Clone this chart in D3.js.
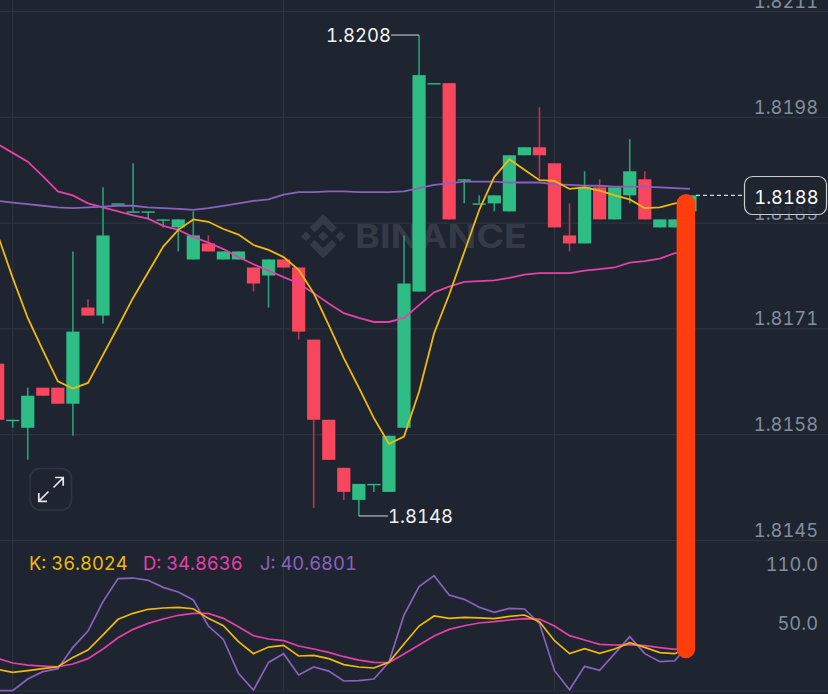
<!DOCTYPE html>
<html>
<head>
<meta charset="utf-8">
<script src="https://cdn.jsdelivr.net/npm/d3@7"></script>
<style>
  html, body { margin: 0; padding: 0; background: #1E2530; }
  svg { display: block; }
  text { font-family: Inter, "Noto Sans", sans-serif; font-variant-numeric: tabular-nums; font-feature-settings: "tnum" 1; }
</style>
</head>
<body>
<div id="chart"></div>
<script>
// candles, oldest first
const opens = [1.8167,1.8160,1.8159,1.8164,1.8164,1.8162,1.8174,1.8173,1.8187,1.8186,1.8186,1.8185,1.8184,1.8180,1.8182,1.8180,1.8180,1.8179,1.8178,1.8180,1.8179,1.8170,1.8160,1.8154,1.8150,1.8152,1.8151,1.8159,1.8176,1.8202,1.8202,1.8190,1.8187,1.8187,1.8186,1.8193,1.8194,1.8192,1.8183,1.8182,1.8189,1.8185,1.8188,1.8190,1.8184,1.8184,1.8186];
const closes = [1.8160,1.8160,1.8163,1.8163,1.8162,1.8171,1.8173,1.8183,1.8187,1.8186,1.8186,1.8185,1.8185,1.8183,1.8181,1.8181,1.8181,1.8177,1.8180,1.8179,1.8171,1.8160,1.8155,1.8151,1.8152,1.8152,1.8158,1.8177,1.8203,1.8202,1.8185,1.8190,1.8187,1.8188,1.8193,1.8194,1.8193,1.8184,1.8182,1.8189,1.8185,1.8189,1.8191,1.8185,1.8185,1.8185,1.8188];
const highs = [1.8167,1.8160,1.8164,1.8164,1.8164,1.8181,1.8175,1.8189,1.8187,1.8192,1.8186,1.8185,1.8185,1.8186,1.8183,1.8181,1.8181,1.8179,1.8180,1.8180,1.8179,1.8170,1.8160,1.8154,1.8152,1.8152,1.8158,1.8183,1.8208,1.8202,1.8202,1.8190,1.8188,1.8188,1.8193,1.8194,1.8199,1.8192,1.8187,1.8191,1.8190,1.8189,1.8195,1.8191,1.8185,1.8185,1.8188];
const lows = [1.8160,1.8159,1.8155,1.8163,1.8162,1.8158,1.8173,1.8172,1.8187,1.8186,1.8185,1.8184,1.8181,1.8180,1.8181,1.8180,1.8180,1.8176,1.8174,1.8179,1.8170,1.8149,1.8155,1.8150,1.8148,1.8151,1.8151,1.8159,1.8176,1.8202,1.8185,1.8187,1.8187,1.8186,1.8186,1.8193,1.8190,1.8184,1.8181,1.8182,1.8185,1.8185,1.8187,1.8185,1.8184,1.8184,1.8186];

// moving averages
const maYellow = [1.81831,1.81777,1.81727,1.81687,1.81648,1.81639,1.81646,1.81681,1.81716,1.81752,1.81784,1.81816,1.81837,1.81850,1.81847,1.81838,1.81831,1.81818,1.81812,1.81803,1.81787,1.81758,1.81718,1.81677,1.81640,1.81602,1.81570,1.81579,1.81635,1.81708,1.81756,1.81809,1.81862,1.81903,1.81925,1.81912,1.81899,1.81898,1.81888,1.81890,1.81886,1.81880,1.81875,1.81864,1.81865,1.81870,1.81873];
const maPink = [1.81944,1.81933,1.81922,1.81904,1.81885,1.81880,1.81870,1.81865,1.81860,1.81855,1.81851,1.81842,1.81837,1.81828,1.81821,1.81813,1.81803,1.81794,1.81786,1.81778,1.81770,1.81758,1.81745,1.81733,1.81727,1.81722,1.81722,1.81727,1.81743,1.81759,1.81766,1.81772,1.81773,1.81774,1.81777,1.81781,1.81783,1.81783,1.81783,1.81786,1.81788,1.81790,1.81796,1.81798,1.81801,1.81808,1.81811];
const maPurple = [1.81873,1.81871,1.81869,1.81867,1.81865,1.81864,1.81865,1.81866,1.81867,1.81867,1.81865,1.81864,1.81863,1.81862,1.81864,1.81867,1.81870,1.81873,1.81875,1.81881,1.81884,1.81884,1.81885,1.81885,1.81884,1.81884,1.81884,1.81885,1.81889,1.81893,1.81895,1.81897,1.81897,1.81897,1.81896,1.81896,1.81896,1.81894,1.81893,1.81892,1.81892,1.81891,1.81891,1.81891,1.81890,1.81889,1.81888];

// KDJ panel
const kValues = [13.0,10.0,11.7,13.7,15.7,25.2,32.7,48.0,63.9,70.0,74.1,75.4,76.1,74.7,64.9,57.4,41.2,29.0,35.7,37.4,26.6,27.3,23.9,17.8,15.4,14.4,20.1,38.8,57.1,67.3,64.9,65.9,65.3,64.6,66.9,68.3,61.5,42.2,29.0,34.1,29.3,33.7,40.2,35.4,30.0,29.0,36.8];
const dValues = [24.2,19.5,17.4,16.4,15.7,18.5,23.9,33.7,45.2,53.7,59.8,64.2,68.0,70.0,70.0,64.9,56.4,47.3,43.9,42.2,36.8,33.7,30.3,25.9,22.5,20.1,19.8,28.6,37.8,46.9,53.7,57.4,60.2,61.5,63.2,64.6,64.2,57.1,47.3,42.9,38.5,37.8,38.1,37.1,35.1,33.4,34.86];
const jValues = [-8.7,-8.7,3.2,10.7,13.7,35.4,52.0,81.9,105.3,105.9,103.6,96.4,91.7,83.6,57.1,43.5,9.0,-8.0,20.1,29.0,7.3,15.4,11.3,1.2,1.5,3.2,20.5,68.3,97.1,108.3,88.6,84.2,76.1,71.0,75.1,74.4,59.8,11.7,-7.7,16.1,12.0,29.0,46.3,29.0,20.8,21.8,40.68];

const priceTicks = [1.8211,1.81978,1.81846,1.81714,1.81582,1.8145];
const kdjTicks = [110,50];
const verticalGridIdx = [1,19,37];
const legendLabels = ["K: 36.8024","D: 34.8636","J: 40.6801"];
const highPrice = 1.8208, lowPrice = 1.8148, lastPrice = 1.8188;
const highIdx = 28, lowIdx = 24;

function renderChart() {
  const width = 828, height = 694;
  const bg = "#1E2530", gridColor = "#2C333E", axisColor = "#848E9C";
  const green = "#2EBD85", red = "#F8465F";
  const yellow = "#F0B90B", pink = "#E641A8", purple = "#8A62BE";

  const svg = d3.select("#chart").append("svg")
    .attr("width", width)
    .attr("height", height)
    .style("background", bg);

  const x = d3.scaleLinear().domain([0, 46]).range([-2.35, 689.95]);
  const y = d3.scaleLinear().domain([1.8211, 1.8145]).range([11, 540]);
  const yK = d3.scaleLinear().domain([110, 50]).range([574, 633]);

  // grid
  svg.append("g")
    .attr("class", "grid")
    .call(d3.axisRight(y).tickValues(priceTicks).tickSize(width).tickFormat(""))
    .call(g => g.select(".domain").remove())
    .selectAll("line").attr("stroke", gridColor).attr("stroke-width", 1.2);

  svg.selectAll("line.vertical-grid")
    .data(verticalGridIdx)
    .enter()
    .append("line")
    .attr("class", "vertical-grid")
    .attr("x1", d => x(d))
    .attr("x2", d => x(d))
    .attr("y1", 0)
    .attr("y2", 691)
    .attr("stroke", gridColor)
    .attr("stroke-width", 1.2);

  svg.append("line")
    .attr("x1", 0).attr("x2", width)
    .attr("y1", 691).attr("y2", 691)
    .attr("stroke", gridColor).attr("stroke-width", 1.2);

  // watermark
  const mark = svg.append("g").attr("transform", "translate(301,214) scale(0.35)").attr("fill", "#343B46");
  [
    "M38.73 53.2L63.3 28.63l24.6 24.6 14.3-14.3L63.3 0 24.43 38.87 38.73 53.2z",
    "M0 63.31L14.3 49 28.6 63.3l-14.3 14.3z",
    "M38.73 73.41L63.3 97.98l24.6-24.6 14.31 14.3L63.3 126.61 24.43 87.74l-.02-.02z",
    "M97.99 63.31l14.3-14.3 14.32 14.3-14.3 14.3z",
    "M77.83 63.3L63.3 48.78 52.57 59.51l-1.24 1.24-2.54 2.54 14.51 14.5 14.53-14.5z"
  ].forEach(p => mark.append("path").attr("d", p));
  svg.append("text")
    .attr("x", 355).attr("y", 248)
    .attr("textLength", 172)
    .attr("lengthAdjust", "spacingAndGlyphs")
    .style("font-size", "33px")
    .style("font-weight", 700)
    .attr("fill", "#343B46")
    .text("BINANCE");

  // price labels
  svg.append("g")
    .attr("transform", "translate(818,0)")
    .call(d3.axisLeft(y).tickValues(priceTicks).tickSize(0).tickPadding(0).tickFormat(d3.format(".4f")))
    .call(g => g.select(".domain").remove())
    .selectAll("text")
    .attr("dy", -3.5)
    .attr("fill", axisColor)
    .style("font-size", "18.3px");

  svg.append("g")
    .attr("transform", "translate(818,0)")
    .call(d3.axisLeft(yK).tickValues(kdjTicks).tickSize(0).tickPadding(0).tickFormat(d3.format(".1f")))
    .call(g => g.select(".domain").remove())
    .selectAll("text")
    .attr("dy", -3.5)
    .attr("fill", axisColor)
    .style("font-size", "18.3px");

  // candles
  const idx = d3.range(opens.length);
  const candleColor = i => closes[i] >= opens[i] ? green : red;
  const wickColor = i => closes[i] >= opens[i] ? "#2A9F79" : "#B93650";

  svg.selectAll("line.wick")
    .data(idx)
    .enter()
    .append("line")
    .attr("class", "wick")
    .attr("x1", i => x(i))
    .attr("x2", i => x(i))
    .attr("y1", i => y(highs[i]))
    .attr("y2", i => y(lows[i]))
    .attr("stroke", wickColor)
    .attr("stroke-width", 1.6);

  svg.selectAll("rect.body")
    .data(idx)
    .enter()
    .append("rect")
    .attr("class", "body")
    .attr("x", i => x(i) - 6.6)
    .attr("width", 13.2)
    .attr("y", i => y(Math.max(opens[i], closes[i])))
    .attr("height", i => Math.max(1.4, y(Math.min(opens[i], closes[i])) - y(Math.max(opens[i], closes[i]))))
    .attr("fill", candleColor);

  // moving averages
  const priceLine = d3.line().x((d, i) => x(i)).y(d => y(d));
  [[maPink, pink], [maPurple, purple], [maYellow, yellow]].forEach(([vals, col]) => {
    svg.append("path")
      .attr("d", priceLine(vals))
      .attr("fill", "none")
      .attr("stroke", col)
      .attr("stroke-width", 1.8);
  });

  // high / low callouts
  svg.append("line")
    .attr("x1", x(highIdx)).attr("x2", 391)
    .attr("y1", y(highPrice)).attr("y2", y(highPrice))
    .attr("stroke", "#B7BDC6").attr("stroke-width", 1.2);
  svg.append("text")
    .attr("x", 391).attr("y", y(highPrice) + 7)
    .attr("text-anchor", "end")
    .attr("fill", "#F2F3F5")
    .style("font-size", "18.5px")
    .text(highPrice.toFixed(4));

  svg.append("line")
    .attr("x1", x(lowIdx)).attr("x2", 388)
    .attr("y1", y(lowPrice)).attr("y2", y(lowPrice))
    .attr("stroke", "#B7BDC6").attr("stroke-width", 1.2);
  svg.append("text")
    .attr("x", 388).attr("y", y(lowPrice) + 7.5)
    .attr("fill", "#F2F3F5")
    .style("font-size", "18.5px")
    .text(lowPrice.toFixed(4));

  // last price tag
  svg.append("line")
    .attr("x1", 696).attr("x2", 745)
    .attr("y1", y(lastPrice)).attr("y2", y(lastPrice))
    .attr("stroke", "#D5D8DC")
    .attr("stroke-width", 1.2)
    .attr("stroke-dasharray", "4 3");
  svg.append("rect")
    .attr("x", 744.5).attr("y", 176.5)
    .attr("width", 82).attr("height", 38)
    .attr("rx", 8)
    .attr("fill", bg).attr("fill-opacity", 0.86)
    .attr("stroke", "#C9CDD2").attr("stroke-width", 1.2);
  svg.append("text")
    .attr("x", 818.5).attr("y", 203.5)
    .attr("text-anchor", "end")
    .attr("fill", "#FFFFFF")
    .style("font-size", "18.3px")
    .text(lastPrice.toFixed(4));

  // expand button
  svg.append("rect")
    .attr("x", 30).attr("y", 468.5)
    .attr("width", 41.5).attr("height", 41.5)
    .attr("rx", 10)
    .attr("fill", "none")
    .attr("stroke", "#2F3641").attr("stroke-width", 1.6);
  svg.append("path")
    .attr("d", "M53.5 487.5L63 478M55 477.5h8.2v8.2M48.5 491.5L39 501M47 501.3h-8.2v-8.2")
    .attr("fill", "none")
    .attr("stroke", "#E6E8EA")
    .attr("stroke-width", 1.7);

  // KDJ
  const kdjLine = d3.line().x((d, i) => x(i)).y(d => yK(d));
  [[jValues, purple], [dValues, pink], [kValues, yellow]].forEach(([vals, col]) => {
    svg.append("path")
      .attr("d", kdjLine(vals))
      .attr("fill", "none")
      .attr("stroke", col)
      .attr("stroke-width", 1.7);
  });

  svg.selectAll("text.legend")
    .data(legendLabels)
    .enter()
    .append("text")
    .attr("class", "legend")
    .attr("x", (d, i) => [29, 143, 260][i])
    .attr("y", 570)
    .attr("fill", (d, i) => [yellow, pink, purple][i])
    .style("font-size", "18.4px")
    .text(d => d);

  // orange marker over the last candle
  svg.append("line")
    .attr("x1", x(45.73)).attr("x2", x(45.73))
    .attr("y1", y(1.8187)).attr("y2", yK(33.7))
    .attr("stroke", "#FF3D0D")
    .attr("stroke-width", 18.5)
    .attr("stroke-linecap", "round");
}

renderChart();
</script>
</body>
</html>
